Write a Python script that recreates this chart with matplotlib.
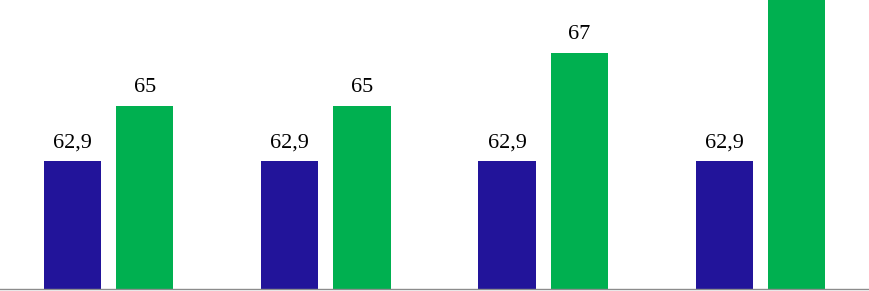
import matplotlib.pyplot as plt
import numpy as np

plt.rcParams['font.family'] = ['Liberation Serif', 'DejaVu Serif']

# data
groups = ['A', 'B', 'C', 'D']
serie_azul = [62.9, 62.9, 62.9, 62.9]
serie_verde = [65, 65, 67, 70]
rotulos_azul = ['62,9', '62,9', '62,9', '62,9']
rotulos_verde = ['65', '65', '67', '70']

fig = plt.figure(figsize=(8.69, 2.91), dpi=100)
ax = fig.add_axes([0, 2 / 291, 1, 289 / 291])

x = np.arange(len(groups))
w = 0.264
off = 0.166
b1 = ax.bar(x - off, serie_azul, w, color='#22149A')
b2 = ax.bar(x + off, serie_verde, w, color='#00B050')

# rotulos acima das barras (o ultimo fica cortado, como no original)
for bars, labs in ((b1, rotulos_azul), (b2, rotulos_verde)):
    for b, lab in zip(bars, labs):
        ax.annotate(lab, (b.get_x() + b.get_width() / 2, b.get_height()),
                    xytext=(0, 9.8), textcoords='offset points',
                    ha='center', va='baseline', fontsize=16,
                    annotation_clip=True)

ax.set_xlim(-0.5, 3.5)
ax.set_ylim(58.05, 69.0)
for s in ['top', 'left', 'right']:
    ax.spines[s].set_visible(False)
ax.spines['bottom'].set_color('#8c8c8c')
ax.spines['bottom'].set_linewidth(1.0)
ax.set_xticks([])
ax.set_yticks([])

fig.savefig('out.png', dpi=100)
